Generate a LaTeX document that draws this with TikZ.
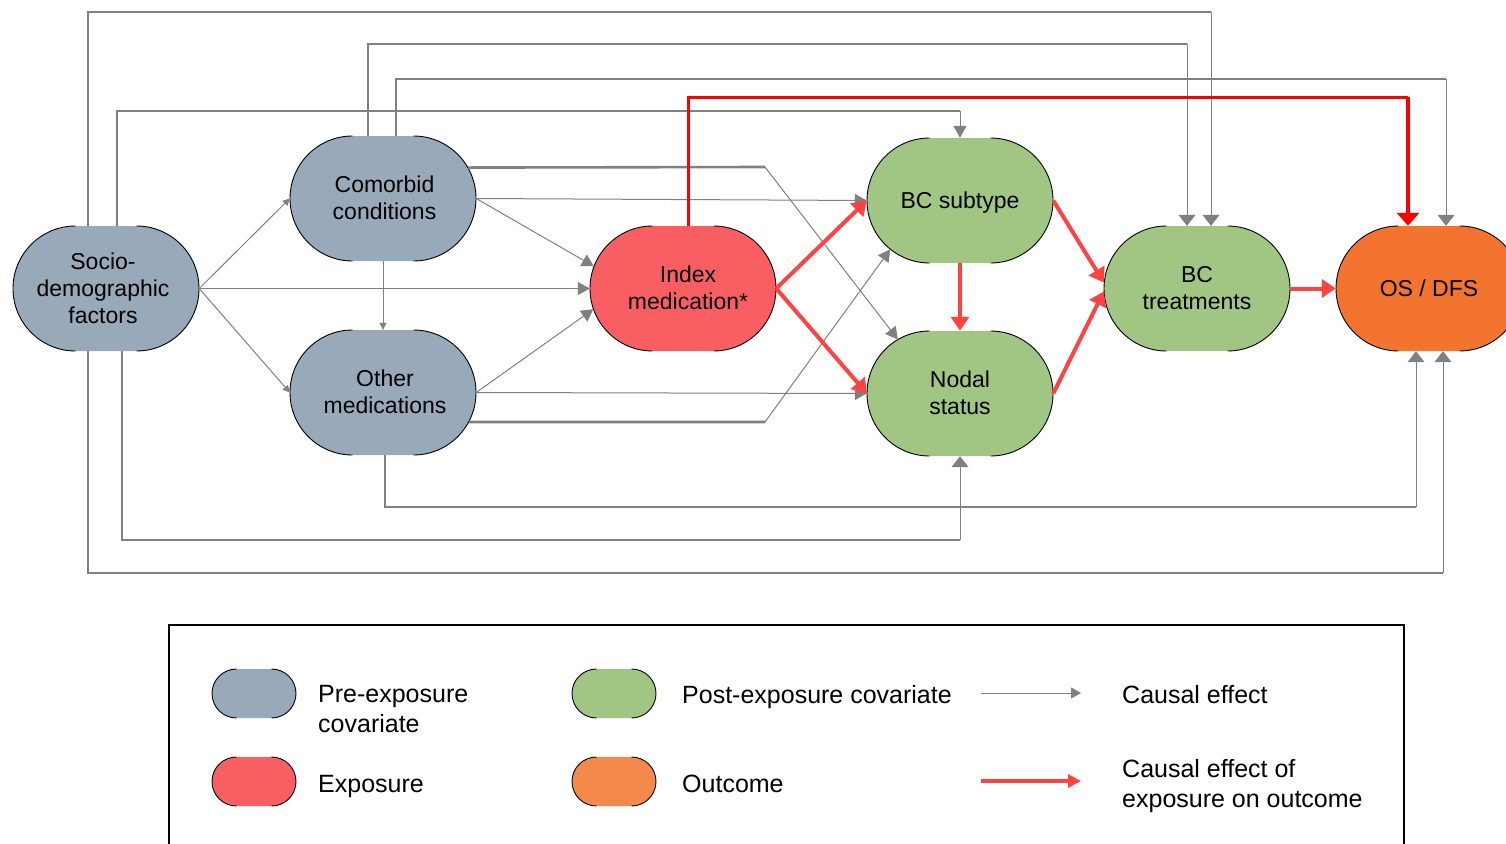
\documentclass[tikz,border=0pt]{standalone}
\usepackage{fontspec}
\setmainfont{Liberation Sans}
\usetikzlibrary{arrows.meta,shapes.misc}
\definecolor{pre}{HTML}{98A9BA}
\definecolor{expo}{HTML}{F95F62}
\definecolor{post}{HTML}{A1C684}
\definecolor{outc}{HTML}{F3742F}
\definecolor{outcl}{HTML}{F38A4C}
\definecolor{redarr}{HTML}{FF4343}
\definecolor{garr}{HTML}{808080}
\newcommand{\ztext}[2][0pt]{\makebox[0pt]{\hspace*{#1}\hspace*{#1}\raisebox{-8.5pt}[0pt][0pt]{\begin{tabular}{@{}c@{}}#2\end{tabular}}}}
\newcommand{\stad}[7]{%
  \pgfmathsetmacro\rr{#6/2}\pgfmathsetmacro\hs{#5/2-#6/2}%
  \node[stadshape, fill=#4, minimum width=#5pt, minimum height=#6pt] (#1) at (#2,-#3) {#7};
  \draw[outl] ([shift={(-\hs pt,\rr pt)}]#1.center) arc[start angle=90,end angle=270,radius=\rr pt];
  \draw[outl] ([shift={(\hs pt,-\rr pt)}]#1.center) arc[start angle=-90,end angle=90,radius=\rr pt];
}
\tikzset{
  stadshape/.style={rounded rectangle, draw=none, inner sep=0pt, font=\fontsize{23}{27}\selectfont},
  outl/.style={draw=black, line width=0.9pt},
  thing/.style={draw=garr, line width=1pt},
  thickg/.style={draw=garr, line width=2.6pt},
  sarr/.style={thing, -{Triangle[length=7pt,width=7pt]}},
  marr/.style={thing, -{Triangle[length=12pt,width=13pt]}},
  larr/.style={thing, -{Triangle[length=11pt,width=17pt]}},
  rarr/.style={draw=redarr, line width=4pt, -{Triangle[length=14pt,width=18pt]}},
  toppath/.style={draw=red, line width=3pt},
  toparr/.style={draw=red, line width=4pt, -{Triangle[length=13pt,width=22pt]}},
  legtext/.style={anchor=west, inner sep=0pt, align=left, font=\fontsize{25}{30}\selectfont},
}
\begin{document}
\begin{tikzpicture}[x=1pt,y=1pt]
\useasboundingbox (0,0) rectangle (1506,-843);

% main nodes
\stad{socio}{106}{288.5}{pre}{186}{125}{\ztext[-3pt]{Socio-\\demographic\\factors}}
\stad{comorb}{383}{198.5}{pre}{186}{125}{\ztext[1.5pt]{Comorbid\\conditions}}
\stad{othmed}{383}{392.5}{pre}{186}{125}{\ztext[2pt]{Other\\medications}}
\stad{index}{683}{288.5}{expo}{186}{125}{\ztext[5pt]{Index\\medication*}}
\stad{bcsub}{960}{200.5}{post}{186}{125}{\ztext{BC subtype}}
\stad{nodal}{960}{393.5}{post}{186}{125}{\ztext{Nodal\\status}}
\stad{bctreat}{1197}{288.5}{post}{186}{125}{\ztext{BC\\treatments}}
\stad{os}{1429}{288.5}{outc}{186}{125}{\ztext{OS / DFS}}

% straight thin arrows
\draw[sarr] (socio.east) -- (comorb.west);
\draw[sarr] (socio.east) -- (othmed.west);
\draw[marr] (socio.east) -- (index.west);
\draw[sarr] (comorb.south) -- (othmed.north);
\draw[marr] (comorb.east) -- (index.166.7);
\draw[marr] (othmed.east) -- (index.193.3);
\draw[marr] (comorb.east) -- (bcsub.west);
\draw[marr] (othmed.east) -- (nodal.west);

% bent connectors crossing
\coordinate (k1) at (765,-167);
\coordinate (k2) at (765,-422);
\draw[thickg] (comorb.20) -- (k1);
\draw[marr] (k1) -- (nodal.139);
\draw[thickg] (othmed.-19) -- (k2);
\draw[marr] (k2) -- (bcsub.215);

% routed connectors (top)
\coordinate (r1) at (1211,-12);
\coordinate (r2) at (960,-111);
\coordinate (r3) at (1187,-44);
\coordinate (r4) at (1446,-79);
\coordinate (r5) at (1408,-97);
\draw[thickg] ([xshift=-18pt]socio.north) |- (r1);
\draw[larr] (r1) -- ([xshift=14pt]bctreat.north);
\draw[thickg] ([xshift=11pt]socio.north) |- (r2);
\draw[marr] (r2) -- (bcsub.north);
\draw[thickg] ([xshift=-15pt]comorb.north) |- (r3);
\draw[larr] (r3) -- ([xshift=-10pt]bctreat.north);
\draw[thickg] ([xshift=13pt]comorb.north) |- (r4);
\draw[larr] (r4) -- ([xshift=17pt]os.north);
\draw[toppath] ([xshift=5pt]index.north) |- (r5);
\draw[toparr] (r5) -- ([xshift=-21pt]os.north);

% routed connectors (bottom)
\coordinate (r6) at (1443,-573);
\coordinate (r7) at (960,-540);
\coordinate (r8) at (1416,-507);
\draw[thickg] ([xshift=-18pt]socio.south) |- (r6);
\draw[larr] (r6) -- ([xshift=14pt]os.south);
\draw[thickg] ([xshift=16pt]socio.south) |- (r7);
\draw[larr] (r7) -- (nodal.south);
\draw[thickg] ([xshift=2pt]othmed.south) |- (r8);
\draw[larr] (r8) -- ([xshift=-13pt]os.south);

% red arrows
\draw[rarr] (index.east) -- (bcsub.west);
\draw[rarr] (index.east) -- (nodal.west);
\draw[rarr] (bcsub.south) -- (nodal.north);
\draw[rarr] (bcsub.east) -- ([yshift=6pt]bctreat.west);
\draw[rarr] (nodal.east) -- ([yshift=-3pt]bctreat.west);
\draw[rarr] (bctreat.east) -- (os.west);

% legend
\draw[line width=1.6pt] (169,-860) |- (1404,-625) -- (1404,-860);
\stad{lpre}{254}{693.5}{pre}{84}{49}{}
\stad{lexp}{254}{781.5}{expo}{84}{49}{}
\stad{lpost}{614}{693.5}{post}{84}{49}{}
\stad{lout}{614}{781.5}{outcl}{84}{49}{}
\node[legtext] (tpre) at (318,-709) {Pre-exposure\\covariate};
\node[legtext] (texp) at (318,-786) {Exposure};
\node[legtext] (tpost) at (682,-697) {Post-exposure covariate};
\node[legtext] (tout) at (682,-784) {Outcome};
\node[legtext] (tce) at (1122,-694.5) {Causal effect};
\node[legtext] (tcex) at (1122,-786.5) {Causal effect of\\exposure on outcome};
\coordinate (la1) at (981,-693);
\coordinate (la2) at (1081,-693);
\coordinate (lb1) at (981,-781);
\coordinate (lb2) at (1081,-781);
\draw[thing, -{Triangle[length=10pt,width=11pt]}] (la1) -- (la2);
\draw[draw=redarr, line width=4pt, -{Triangle[length=13pt,width=13pt]}] (lb1) -- (lb2);
\end{tikzpicture}
\end{document}
